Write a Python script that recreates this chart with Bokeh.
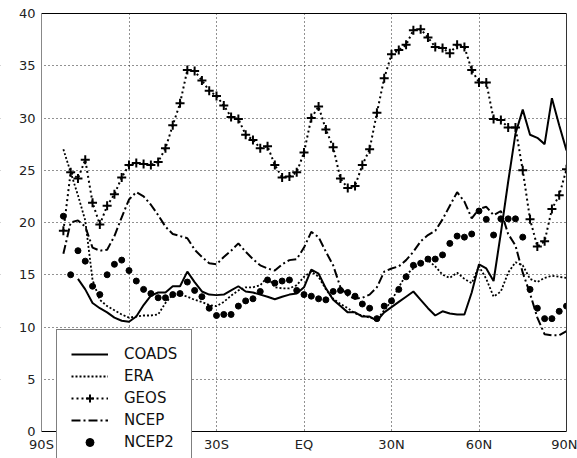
from bokeh.plotting import figure
from bokeh.models import Legend, LegendItem, FixedTicker, LinearAxis, BoxAnnotation
from bokeh.embed import file_html
from bokeh.resources import INLINE

# latitude grid (deg, S negative)
LAT = [-82.5, -80.0, -77.5, -75.0, -72.5, -70.0, -67.5, -65.0, -62.5, -60.0,
       -57.5, -55.0, -52.5, -50.0, -47.5, -45.0, -42.5, -40.0, -37.5, -35.0,
       -32.5, -30.0, -27.5, -25.0, -22.5, -20.0, -17.5, -15.0, -12.5, -10.0,
       -7.5, -5.0, -2.5, 0.0, 2.5, 5.0, 7.5, 10.0, 12.5, 15.0,
       17.5, 20.0, 22.5, 25.0, 27.5, 30.0, 32.5, 35.0, 37.5, 40.0,
       42.5, 45.0, 47.5, 50.0, 52.5, 55.0, 57.5, 60.0, 62.5, 65.0,
       67.5, 70.0, 72.5, 75.0, 77.5, 80.0, 82.5, 85.0, 87.5, 90.0]
LAT_COADS = LAT[2:]

COADS = [14.6, 13.6, 12.3, 11.8, 11.4, 10.9, 10.6, 10.5, 11.0, 12.1,
         13.0, 13.3, 13.3, 13.9, 13.9, 15.3, 14.3, 13.4, 13.1, 13.05,
         13.1, 13.5, 13.9, 13.4, 13.3, 13.1, 12.9, 12.65, 12.9, 13.1,
         13.2, 13.8, 15.5, 15.1, 13.7, 12.6, 12.0, 11.4, 11.4, 11.0,
         11.0, 10.6, 11.4, 11.9, 12.4, 12.9, 13.4, 12.6, 11.8, 11.1,
         11.5, 11.3, 11.2, 11.2, 13.3, 16.0, 15.6, 14.4, 19.0, 23.9,
         28.5, 30.8, 28.4, 28.1, 27.5, 31.9, 29.3, 26.9]

ERA = [27.0, 24.8, 22.6, 20.2, 14.5, 12.6, 12.0, 11.6, 11.2, 10.9,
       11.0, 11.1, 11.1, 11.2, 12.3, 13.1, 13.1, 12.9, 12.6, 12.4,
       12.1, 12.0, 12.4, 13.0, 13.5, 13.8, 13.8, 14.0, 14.8, 13.8,
       13.7, 13.7, 14.0, 14.8, 15.3, 14.8, 13.6, 12.7, 12.2, 11.8,
       11.3, 11.1, 10.9, 10.7, 11.6, 12.5, 13.8, 15.0, 15.6, 16.1,
       16.4, 15.8, 15.0, 14.7, 15.2, 14.6, 14.2, 15.8, 14.6, 12.9,
       13.4, 15.2, 16.2, 15.9, 14.6, 14.3, 14.7, 14.9, 14.8, 14.7]

GEOS = [19.2, 24.8, 24.2, 26.0, 21.9, 19.8, 21.6, 22.7, 24.3, 25.5,
        25.7, 25.6, 25.5, 25.8, 27.1, 29.3, 31.4, 34.6, 34.5, 33.6,
        32.6, 32.1, 31.2, 30.1, 29.9, 28.4, 27.9, 27.1, 27.3, 25.5,
        24.3, 24.4, 24.8, 26.7, 30.0, 31.1, 28.9, 27.2, 24.2, 23.3,
        23.5, 25.5, 27.0, 30.5, 33.8, 36.1, 36.5, 37.0, 38.4, 38.5,
        37.7, 36.8, 36.7, 36.2, 37.0, 36.8, 34.6, 33.4, 33.4, 29.9,
        29.8, 29.1, 29.1, 25.0, 20.3, 17.7, 18.2, 21.3, 22.6, 25.1]

NCEP = [17.0, 20.0, 20.2, 19.6, 17.6, 17.3, 17.4, 18.7, 20.5, 22.2,
        22.9, 22.5, 21.7, 20.7, 19.6, 18.9, 18.7, 18.5, 17.4, 16.7,
        16.1, 16.0, 16.7, 17.3, 18.0, 17.2, 16.5, 15.9, 15.6, 15.4,
        16.0, 16.4, 16.5, 17.6, 19.1, 18.6, 17.2, 15.9, 13.8, 13.0,
        12.7, 12.8, 13.1, 13.8, 15.3, 15.6, 15.8, 16.4, 17.2, 18.2,
        18.8, 19.2, 20.3, 21.6, 22.9, 22.0, 20.4, 21.3, 21.5, 20.7,
        21.1, 18.9, 17.8, 15.2, 13.2, 10.9, 9.3, 9.2, 9.2, 9.6]

NCEP2 = [20.6, 15.0, 17.3, 16.3, 13.9, 13.1, 15.0, 16.0, 16.4, 15.4,
         14.4, 13.6, 13.2, 12.8, 12.8, 13.1, 13.2, 14.3, 13.5, 12.9,
         11.8, 11.1, 11.2, 11.2, 12.0, 12.5, 12.7, 13.4, 14.5, 14.2,
         14.4, 14.5, 13.5, 13.1, 12.95, 12.7, 12.6, 13.4, 13.5, 13.3,
         12.95, 12.2, 11.8, 10.8, 12.0, 12.5, 13.6, 14.8, 15.9, 16.1,
         16.5, 16.5, 16.9, 18.0, 18.7, 18.6, 18.9, 21.1, 20.3, 18.8,
         20.35, 20.35, 20.35, 18.6, 13.6, 11.8, 10.8, 10.8, 11.5, 12.0]

X_TICKS = [-90, -60, -30, 0, 30, 60, 90]
X_LABELS = ["90S", "60S", "30S", "EQ", "30N", "60N", "90N"]
Y_TICKS = [0, 5, 10, 15, 20, 25, 30, 35, 40]
X_MIN, X_MAX = -90, 90
Y_MIN, Y_MAX = 0, 40

# the frame fills the whole canvas; axes sit at fixed data locations
W, H = 577, 458
PLOT_L, PLOT_R, PLOT_T, PLOT_B = 41, 566, 13, 431   # pixel box of the data area
sx = (PLOT_R - PLOT_L) / (X_MAX - X_MIN)
sy = (PLOT_B - PLOT_T) / (Y_MAX - Y_MIN)
XR = (X_MIN - PLOT_L / sx, X_MAX + (W - PLOT_R) / sx)
YR = (Y_MIN - (H - PLOT_B) / sy, Y_MAX + PLOT_T / sy)

p = figure(width=W, height=H, x_range=XR, y_range=YR,
           output_backend="svg", toolbar_location=None,
           min_border_left=0, min_border_right=0, min_border_top=0, min_border_bottom=0)
p.background_fill_color = "white"
p.border_fill_color = "white"
p.outline_line_color = None

p.xaxis.fixed_location = Y_MIN
p.xaxis.bounds = (X_MIN, X_MAX)
p.yaxis.fixed_location = X_MIN
p.yaxis.bounds = (Y_MIN, Y_MAX)
p.xaxis.ticker = FixedTicker(ticks=X_TICKS)
p.yaxis.ticker = FixedTicker(ticks=Y_TICKS)
p.xaxis.major_label_overrides = {t: l for t, l in zip(X_TICKS, X_LABELS)}
for ax in (p.xaxis, p.yaxis):
    ax.major_tick_in = 0
    ax.major_tick_out = 0
    ax.minor_tick_line_color = None
    ax.major_label_text_font = "DejaVu Sans"
    ax.major_label_text_font_size = "13px"
    ax.major_label_text_color = "#222222"
p.xaxis.axis_line_color = "black"
p.yaxis.axis_line_color = "#888888"
p.xaxis.major_label_standoff = 5
p.yaxis.major_label_standoff = 6

# top and right frame lines
common = dict(ticker=FixedTicker(ticks=[]), major_tick_out=0, major_tick_in=0,
              minor_tick_out=0, minor_tick_in=0, major_label_text_font_size="0px",
              major_label_standoff=0)
p.add_layout(LinearAxis(fixed_location=X_MAX, bounds=(Y_MIN, Y_MAX),
                        axis_line_color="#333333", **common), "right")
p.add_layout(LinearAxis(fixed_location=Y_MAX, bounds=(X_MIN, X_MAX),
                        axis_line_color="black", **common), "above")

p.xgrid.ticker = FixedTicker(ticks=[-60, -30, 0, 30, 60])
p.ygrid.ticker = FixedTicker(ticks=[5, 10, 15, 20, 25, 30, 35])
for g in (p.xgrid, p.ygrid):
    g.grid_line_color = "#222222"
    g.grid_line_dash = "1 3"
    g.grid_line_width = 1

# blank the margins so grid lines stay inside the data box
for l, r, b, t in [(XR[0], XR[1], YR[0], Y_MIN), (XR[0], XR[1], Y_MAX, YR[1]),
                   (XR[0], X_MIN, YR[0], YR[1]), (X_MAX, XR[1], YR[0], YR[1])]:
    p.add_layout(BoxAnnotation(left=l, right=r, bottom=b, top=t, fill_color="white",
                               fill_alpha=1.0, line_alpha=0, level="glyph"))

r_coads = p.line(LAT_COADS, COADS, line_color="black", line_width=2)
r_era = p.line(LAT, ERA, line_color="black", line_width=1.8, line_dash="2 2")
r_geos_l = p.line(LAT, GEOS, line_color="black", line_width=2, line_dash="2 3")
r_geos_m = p.scatter(LAT, GEOS, marker="cross", size=9, line_color="black", line_width=2)
r_ncep = p.line(LAT, NCEP, line_color="black", line_width=2, line_dash="9 3 2 3")
r_ncep2 = p.scatter(LAT, NCEP2, marker="circle", size=6, fill_color="black", line_color="black")

legend = Legend(items=[
    LegendItem(label="COADS", renderers=[r_coads]),
    LegendItem(label="ERA", renderers=[r_era]),
    LegendItem(label="GEOS", renderers=[r_geos_l, r_geos_m]),
    LegendItem(label="NCEP", renderers=[r_ncep]),
    LegendItem(label="NCEP2", renderers=[r_ncep2]),
], location=(56, -9))
legend.padding = 14
legend.margin = 0
legend.spacing = 2
legend.glyph_width = 37
legend.glyph_height = 20
legend.label_height = 20
legend.label_standoff = 16
legend.label_text_font = "DejaVu Sans"
legend.label_text_font_size = "15px"
legend.label_text_color = "#111111"
legend.border_line_color = "black"
legend.border_line_width = 1
legend.background_fill_color = "white"
legend.background_fill_alpha = 1.0
p.add_layout(legend)

open("out.html", "w").write(file_html(p, INLINE))
